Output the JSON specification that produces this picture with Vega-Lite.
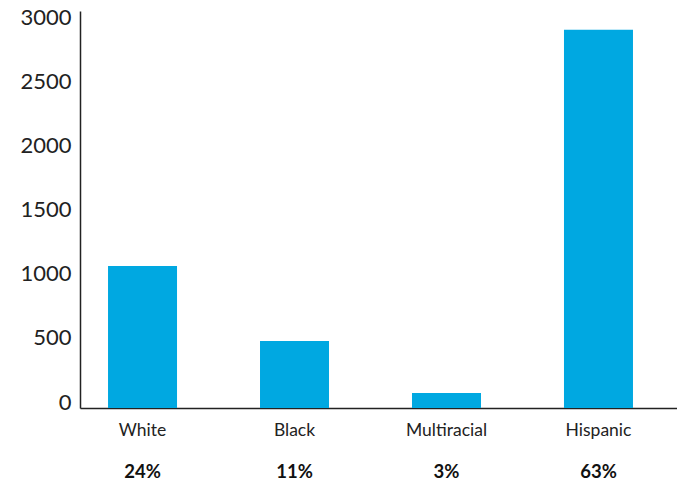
{
  "$schema": "https://vega.github.io/schema/vega-lite/v6.json",
  "autosize": "none",
  "padding": {"left": 80, "top": 11, "right": 0, "bottom": 77},
  "width": 597,
  "height": 397,
  "background": "white",
  "config": {"view": {"stroke": null}, "font": "Lato"},
  "data": {"values": [
    {"race": "White", "count": 1109, "pct": "24%"},
    {"race": "Black", "count": 523, "pct": "11%"},
    {"race": "Multiracial", "count": 117, "pct": "3%"},
    {"race": "Hispanic", "count": 2953, "pct": "63%"}
  ]},
  "layer": [
    {
      "mark": {"type": "bar", "color": "#00A8E1"},
      "encoding": {
        "x": {"field": "race", "type": "nominal", "sort": null,
          "scale": {"paddingInner": 0.546, "paddingOuter": 0.237, "align": 0.389},
          "axis": {"title": null, "orient": "bottom", "labelAngle": 0, "ticks": false, "domain": true,
            "domainColor": "#222", "domainWidth": 1.5, "labelFont": "Lato", "labelFontSize": 17.5,
            "labelColor": "#222", "labelPadding": 13}},
        "y": {"field": "count", "type": "quantitative",
          "scale": {"domain": [0, 3100], "nice": false},
          "axis": {"title": null, "values": [0, 500, 1000, 1500, 2000, 2500, 3000], "format": "d", "grid": false, "ticks": false,
            "domainColor": "#222", "domainWidth": 1.5, "labelFont": "Lato", "labelFontSize": 22,
            "labelColor": "#222", "labelPadding": 9, "labelOffset": -6}}
      }
    },
    {
      "mark": {"type": "bar", "opacity": 0},
      "encoding": {
        "x": {"field": "pct", "type": "nominal", "sort": null,
          "scale": {"paddingInner": 0.546, "paddingOuter": 0.237, "align": 0.389},
          "axis": {"title": null, "orient": "bottom", "labelAngle": 0, "ticks": false, "domain": false,
            "labelFont": "Lato", "labelFontSize": 18.5, "labelFontWeight": "bold",
            "labelColor": "#111", "labelPadding": 12, "offset": 42}},
        "y": {"field": "count", "type": "quantitative"}
      }
    }
  ],
  "resolve": {"scale": {"x": "independent"}, "axis": {"x": "independent"}}
}
